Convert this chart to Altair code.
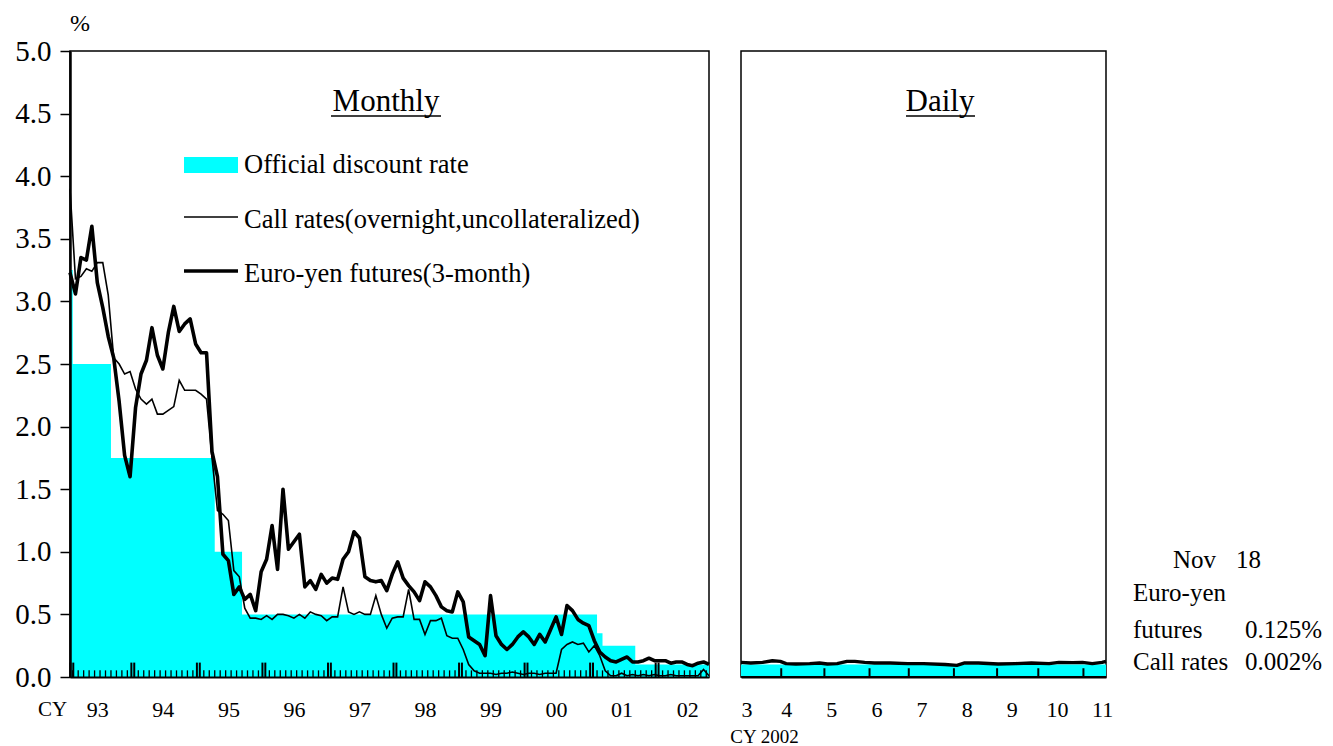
import json
import altair as alt
import numpy as np
import pandas as pd

FONT = "Liberation Serif"
CYAN = "#00FFFF"

# ---------------- data ----------------
year_labels = ["93", "94", "95", "96", "97", "98", "99", "00", "01", "02"]
daily_month_labels = ["3", "4", "5", "6", "7", "8", "9", "10", "11"]

# Official discount rate, monthly, Jan 1993 - Oct 2002
odr_monthly = ([3.25] + [2.5] * 7 + [1.75] * 19 + [1.0] * 5 + [0.5] * 65
               + [0.35] + [0.25] * 6 + [0.1] * 14)

# Call rates (overnight, uncollateralized), monthly
call_rate = [
    3.90, 3.18, 3.20, 3.26, 3.24, 3.31, 3.31, 3.05, 2.55, 2.50, 2.42, 2.44,
    2.30, 2.22, 2.18, 2.22, 2.10, 2.10, 2.13, 2.16, 2.37, 2.29, 2.29, 2.29,
    2.26, 2.22, 1.75, 1.33, 1.30, 1.25, 0.85, 0.80, 0.55, 0.47, 0.47, 0.46,
    0.49, 0.46, 0.50, 0.50, 0.49, 0.47, 0.50, 0.47, 0.52, 0.50, 0.49, 0.45,
    0.48, 0.48, 0.72, 0.52, 0.50, 0.52, 0.50, 0.50, 0.65, 0.50, 0.39, 0.47,
    0.48, 0.48, 0.70, 0.46, 0.46, 0.34, 0.45, 0.45, 0.47, 0.33, 0.31, 0.31,
    0.22, 0.10, 0.05, 0.03, 0.03, 0.03, 0.02, 0.03, 0.03, 0.04, 0.03, 0.02,
    0.03, 0.03, 0.02, 0.03, 0.03, 0.03, 0.22, 0.26, 0.28, 0.26, 0.27, 0.20,
    0.25, 0.17, 0.05, 0.01, 0.01, 0.03, 0.01, 0.02, 0.01, 0.02, 0.01, 0.02,
    0.01, 0.01, 0.02, 0.01, 0.01, 0.01, 0.01, 0.01, 0.06, 0.01,
]

# Euro-yen futures (3-month), monthly
euro_yen = [
    3.23, 3.06, 3.35, 3.33, 3.60, 3.15, 2.95, 2.72, 2.55, 2.20, 1.77, 1.60,
    2.15, 2.42, 2.53, 2.79, 2.57, 2.46, 2.75, 2.96, 2.76, 2.82, 2.86, 2.66,
    2.59, 2.59, 1.80, 1.60, 0.98, 0.93, 0.66, 0.72, 0.62, 0.66, 0.53, 0.84,
    0.94, 1.21, 0.86, 1.50, 1.02, 1.08, 1.14, 0.72, 0.77, 0.70, 0.82, 0.75,
    0.79, 0.78, 0.94, 1.00, 1.16, 1.11, 0.80, 0.77, 0.76, 0.77, 0.69, 0.82,
    0.92, 0.79, 0.73, 0.68, 0.61, 0.76, 0.72, 0.65, 0.56, 0.53, 0.52, 0.68,
    0.60, 0.32, 0.29, 0.26, 0.17, 0.65, 0.33, 0.26, 0.22, 0.26, 0.32, 0.36,
    0.32, 0.26, 0.34, 0.28, 0.38, 0.48, 0.34, 0.57, 0.53, 0.46, 0.43, 0.41,
    0.29, 0.20, 0.16, 0.13, 0.12, 0.14, 0.16, 0.12, 0.12, 0.13, 0.15, 0.13,
    0.13, 0.13, 0.11, 0.12, 0.12, 0.10, 0.09, 0.11, 0.12, 0.10,
]

# Daily panel (business days from 1 Mar 2002 to 18 Nov 2002)
daily_day_index = [0, 5, 11, 16, 20, 23, 28, 35, 40, 44, 49, 54, 58, 63, 68, 76,
                   85, 93, 104, 110, 114, 121, 131, 140, 148, 157, 162, 169,
                   174, 179, 184, 186]
daily_euro_yen = [0.117, 0.112, 0.117, 0.130, 0.125, 0.107, 0.104, 0.107, 0.112,
                  0.104, 0.107, 0.125, 0.125, 0.117, 0.112, 0.112, 0.107, 0.107,
                  0.100, 0.093, 0.112, 0.112, 0.104, 0.107, 0.112, 0.107, 0.117,
                  0.115, 0.117, 0.107, 0.117, 0.125]
daily_call_index = [0, 186]
daily_call = [0.002, 0.002]
daily_odr_index = [0, 186]
daily_odr = [0.1, 0.1]

# ---------------- frames ----------------
n = len(euro_yen)
t = 1993 + np.arange(n) / 12.0
monthly = pd.DataFrame({"t": t, "odr": odr_monthly, "call": call_rate, "euro": euro_yen})

# inward tick marks (month boundaries, doubled year boundaries)
month_b = [1993 + (i + 0.5) / 12 for i in range(n - 1) if (i + 1) % 12 != 0]
year_mid = [1993 + (12 * k - 0.5) / 12 for k in range(1, 10)]
year_b2 = sorted([y - 0.022 for y in year_mid] + [y + 0.022 for y in year_mid]
                 + [1993.006, 1993.05])
ticks_m = pd.DataFrame({"t": month_b, "y0": 0.0, "y1": 0.053})
ticks_y = pd.DataFrame({"t": year_b2, "y0": 0.0, "y1": 0.115})

bdays = pd.bdate_range("2002-03-01", "2002-11-18")
nd = len(bdays)
mb = [i - 0.5 for i in range(1, nd) if bdays[i].month != bdays[i - 1].month]
ticks_d = pd.DataFrame({"d": mb, "y0": 0.0, "y1": 0.07})

daily_e = pd.DataFrame({"d": daily_day_index, "v": daily_euro_yen})
daily_c = pd.DataFrame({"d": daily_call_index, "v": daily_call})
daily_o = pd.DataFrame({"d": daily_odr_index, "v": daily_odr})

# ---------------- scales / axes ----------------
W1, W2, H = 639, 365, 626
yscale = alt.Scale(domain=[0, 5], nice=False, zero=True)
xscale1 = alt.Scale(domain=[1993, 1993 + (n - 1) / 12], nice=False, zero=False)
xscale2 = alt.Scale(domain=[0, nd - 1], nice=False, zero=False)

yaxis = alt.Axis(values=[k * 0.5 for k in range(11)], format=".1f", title=None,
                 labelFontSize=29, tickSize=10, tickWidth=1.5, labelPadding=9,
                 domainWidth=2.5, grid=False, zindex=1)
xaxis1 = alt.Axis(values=[1993 + k + 5 / 12 for k in range(10)],
                  labelExpr=f"{json.dumps(year_labels)}[round(datum.value - 1993.4167)]",
                  ticks=False, tickSize=0, labelPadding=22, labelFontSize=22,
                  labelBaseline="top", domainWidth=2, grid=False, zindex=1,
                  title="CY", titleX=-18, titleY=32, titleAlign="center",
                  titleBaseline="middle", titleFontSize=21, titleFontWeight="normal")
xaxis2 = alt.Axis(values=[k * 23 for k in range(9)],
                  labelExpr=f"{json.dumps(daily_month_labels)}[round(datum.value / 23)]",
                  ticks=False, tickSize=0, labelPadding=22, labelFontSize=22,
                  labelBaseline="top", domainWidth=2, grid=False, zindex=1,
                  title="CY 2002", titleX=23, titleY=59, titleAlign="center",
                  titleBaseline="middle", titleFontSize=19, titleFontWeight="normal")


def text(s, x, y, size, align="left"):
    return alt.Chart(pd.DataFrame({"k": [0]})).mark_text(
        text=s, align=align, baseline="middle", font=FONT, fontSize=size, color="black"
    ).encode(x=alt.value(x), y=alt.value(y))


def hline(x1, x2, y, w):
    return alt.Chart(pd.DataFrame({"k": [0]})).mark_rule(color="black", strokeWidth=w).encode(
        x=alt.value(x1), x2=alt.value(x2), y=alt.value(y))


# ---------------- left (monthly) panel ----------------
odr_area = alt.Chart(monthly).mark_area(interpolate="step", color=CYAN, opacity=1).encode(
    x=alt.X("t:Q", scale=xscale1, axis=xaxis1),
    y=alt.Y("odr:Q", scale=yscale, axis=yaxis),
)
tick_m = alt.Chart(ticks_m).mark_rule(color="black", strokeWidth=1.3).encode(
    x=alt.X("t:Q", scale=xscale1), y=alt.Y("y0:Q", scale=yscale), y2="y1:Q")
tick_y = alt.Chart(ticks_y).mark_rule(color="black", strokeWidth=2).encode(
    x=alt.X("t:Q", scale=xscale1), y=alt.Y("y0:Q", scale=yscale), y2="y1:Q")
call_line = alt.Chart(monthly).mark_line(color="black", strokeWidth=1.6).encode(
    x=alt.X("t:Q", scale=xscale1), y=alt.Y("call:Q", scale=yscale))
euro_line = alt.Chart(monthly).mark_line(color="black", strokeWidth=3.6, strokeJoin="round").encode(
    x=alt.X("t:Q", scale=xscale1), y=alt.Y("euro:Q", scale=yscale))

legend_rect = alt.Chart(pd.DataFrame({"k": [0]})).mark_rect(color=CYAN).encode(
    x=alt.value(114), x2=alt.value(168), y=alt.value(106), y2=alt.value(122))

left = alt.layer(
    odr_area, tick_m, tick_y, call_line, euro_line,
    text("%", 10, -27, 24, "center"),
    text("Monthly", 316, 51, 31, "center"), hline(261, 371, 65, 1.5),
    legend_rect, text("Official discount rate", 174, 114, 26.5),
    hline(114, 168, 166, 1.6), text("Call rates(overnight,uncollateralized)", 174, 169, 26.5),
    hline(114, 168, 220, 3.6), text("Euro-yen futures(3-month)", 174, 223, 26.5),
).properties(width=W1, height=H)

# ---------------- right (daily) panel ----------------
d_area = alt.Chart(daily_o).mark_area(color=CYAN, opacity=1).encode(
    x=alt.X("d:Q", scale=xscale2, axis=xaxis2),
    y=alt.Y("v:Q", scale=yscale, axis=None),
)
d_ticks = alt.Chart(ticks_d).mark_rule(color="black", strokeWidth=2).encode(
    x=alt.X("d:Q", scale=xscale2), y=alt.Y("y0:Q", scale=yscale), y2="y1:Q")
d_call = alt.Chart(daily_c).mark_line(color="black", strokeWidth=1.4).encode(
    x=alt.X("d:Q", scale=xscale2), y=alt.Y("v:Q", scale=yscale))
d_euro = alt.Chart(daily_e).mark_line(color="black", strokeWidth=3.4, strokeJoin="round").encode(
    x=alt.X("d:Q", scale=xscale2), y=alt.Y("v:Q", scale=yscale))

right = alt.layer(
    d_area, d_ticks, d_call, d_euro,
    text("Daily", 199, 51, 31, "center"), hline(165, 234, 65, 1.5),
    text("Nov", 432, 509, 25), text("18", 495, 509, 25),
    text("Euro-yen", 392, 542, 25),
    text("futures", 392, 579, 25), text("0.125%", 581, 579, 25, "right"),
    text("Call rates", 392, 611, 25), text("0.002%", 581, 611, 25, "right"),
).properties(width=W2, height=H)

chart = alt.hconcat(left, right, spacing=32, bounds="flush").resolve_scale(
    x="independent", y="independent"
).configure(
    padding={"left": 6, "top": 3, "right": 0, "bottom": 4},
    font=FONT,
).configure_view(stroke="black", strokeWidth=1.5).configure_axis(
    labelFont=FONT, titleFont=FONT, labelColor="black", titleColor="black",
    domainColor="black", tickColor="black", grid=False,
)

chart.save("out.html", embed_options={"renderer": "svg", "actions": False})
